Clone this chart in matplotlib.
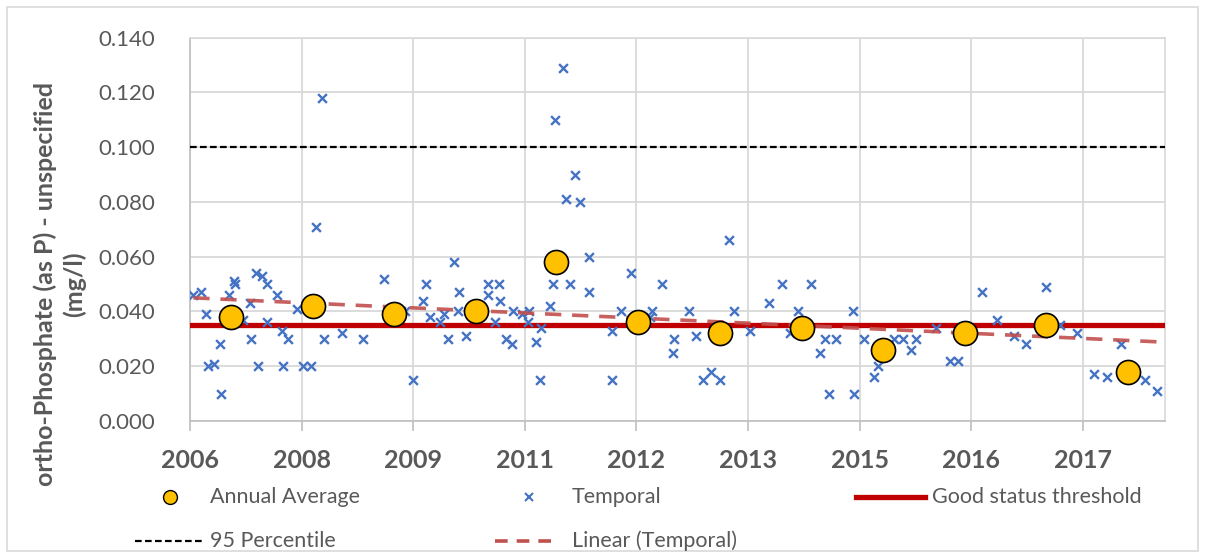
import numpy as np
import matplotlib
matplotlib.use("Agg")
import matplotlib.pyplot as plt
from matplotlib.lines import Line2D
from matplotlib.patches import Rectangle

plt.rcParams["font.family"] = ["Lato", "DejaVu Sans"]

# sample dates (decimal years) and ortho-phosphate values (mg/l)
temporal_t = [
    2006.04, 2006.13, 2006.19, 2006.22, 2006.29, 2006.36, 2006.38, 2006.47, 2006.54, 2006.55,
    2006.64, 2006.73, 2006.74, 2006.80, 2006.88, 2006.83, 2006.93, 2006.94, 2007.06, 2007.12,
    2007.19, 2007.13, 2007.30, 2007.37, 2007.47, 2007.53, 2007.60, 2007.63, 2007.85, 2008.10,
    2008.36, 2008.51, 2008.56, 2008.61, 2008.71, 2008.86, 2008.83, 2008.91, 2009.04, 2009.09,
    2009.13, 2009.20, 2009.27, 2009.26, 2009.35, 2009.43, 2009.62, 2009.62, 2009.75, 2009.70,
    2009.77, 2009.84, 2009.91, 2009.92, 2010.03, 2010.12, 2010.11, 2010.20, 2010.26, 2010.25,
    2010.37, 2010.41, 2010.43, 2010.53, 2010.56, 2010.62, 2010.68, 2010.74, 2010.85, 2010.85,
    2011.13, 2011.13, 2011.23, 2011.36, 2011.61, 2011.59, 2011.73, 2011.88, 2011.87, 2012.06,
    2012.15, 2012.23, 2012.33, 2012.43, 2012.54, 2012.60, 2012.80, 2013.03, 2013.19, 2013.29,
    2013.38, 2013.54, 2013.65, 2013.71, 2013.76, 2013.85, 2014.05, 2014.06, 2014.19, 2014.30,
    2014.36, 2014.55, 2014.66, 2014.75, 2014.82, 2015.06, 2015.23, 2015.33, 2015.62, 2015.80,
    2016.01, 2016.15, 2016.40, 2016.57, 2016.77, 2016.98, 2017.14, 2017.31, 2017.60, 2017.74,
]
temporal_v = [
    0.046, 0.047, 0.039, 0.020, 0.021, 0.028, 0.010, 0.046, 0.051, 0.050,
    0.037, 0.043, 0.030, 0.054, 0.053, 0.020, 0.050, 0.036, 0.046, 0.033,
    0.030, 0.020, 0.041, 0.020, 0.020, 0.071, 0.118, 0.030, 0.032, 0.030,
    0.052, 0.040, 0.040, 0.040, 0.015, 0.050, 0.044, 0.038, 0.036, 0.039,
    0.030, 0.058, 0.047, 0.040, 0.031, 0.040, 0.050, 0.046, 0.050, 0.036,
    0.044, 0.030, 0.028, 0.040, 0.039, 0.040, 0.036, 0.029, 0.034, 0.015,
    0.042, 0.050, 0.110, 0.129, 0.081, 0.050, 0.090, 0.080, 0.060, 0.047,
    0.015, 0.033, 0.040, 0.054, 0.040, 0.038, 0.050, 0.030, 0.025, 0.040,
    0.031, 0.015, 0.018, 0.015, 0.066, 0.040, 0.033, 0.043, 0.050, 0.032,
    0.040, 0.050, 0.025, 0.030, 0.010, 0.030, 0.040, 0.010, 0.030, 0.016,
    0.020, 0.030, 0.030, 0.026, 0.030, 0.034, 0.022, 0.022, 0.047, 0.037,
    0.031, 0.028, 0.049, 0.035, 0.032, 0.017, 0.016, 0.028, 0.015, 0.011,
]

annual_t = [2006.50, 2007.49, 2008.48, 2009.47, 2010.45, 2011.44,
            2012.44, 2013.43, 2014.42, 2015.41, 2016.40, 2017.39]
annual_v = [0.038, 0.042, 0.039, 0.040, 0.058, 0.036,
            0.032, 0.034, 0.026, 0.032, 0.035, 0.018]

good_status = 0.035
percentile_95 = 0.100

tick_t = [2006.0 + k * 1.3552 for k in range(9)]
tick_labels = ["2006", "2008", "2009", "2011", "2012", "2013", "2015", "2016", "2017"]

grey = "#595959"
blue = "#4472C4"
gold = "#FFC000"
red = "#C00000"
trend_col = "#C0504D"

fig = plt.figure(figsize=(12.05, 5.58), dpi=100)
fig.add_artist(Rectangle((0.006, 0.012), 0.988, 0.976, transform=fig.transFigure,
                         fill=False, edgecolor="#d9d9d9", linewidth=1.2))
ax = fig.add_axes([0.1577, 0.2455, 0.8091, 0.6869])

ax.set_xlim(2006.0, 2006.0 + (1165 - 190) / 82.35)
ax.set_ylim(0, 0.14)
ax.set_yticks(np.arange(0, 0.1401, 0.02))
ax.set_yticklabels([f"{v:.3f}" for v in np.arange(0, 0.1401, 0.02)])
ax.set_xticks(tick_t)
ax.set_xticklabels(tick_labels)
ax.grid(True, color="#d9d9d9", linewidth=1.3)
ax.set_axisbelow(True)
for s in ax.spines.values():
    s.set_color("#d9d9d9")
    s.set_linewidth(1.2)
ax.spines["bottom"].set_color("#bfbfbf")
ax.spines["left"].set_color("#bfbfbf")
ax.tick_params(axis="y", length=0, pad=25, labelsize=16, labelcolor=grey)
ax.tick_params(axis="x", length=7, width=1.2, color="#bfbfbf", pad=13,
               labelsize=18, labelcolor=grey)
for lbl in ax.get_xticklabels():
    lbl.set_fontweight("bold")

ax.axhline(good_status, color=red, linewidth=3.8, zorder=3)
ax.axhline(percentile_95, color="black", linewidth=1.6, linestyle=(0, (3, 1.5)), zorder=3)

ax.scatter(temporal_t, temporal_v, marker="x", s=40, color=blue, linewidths=1.7, zorder=4)

coef = np.polyfit(temporal_t, temporal_v, 1)
tt = np.array([min(temporal_t), max(temporal_t)])
ax.plot(tt, np.polyval(coef, tt), color=trend_col, linewidth=2.6,
        linestyle=(0, (4.5, 3)), alpha=0.9, zorder=5)

ax.scatter(annual_t, annual_v, s=300, color=gold, edgecolors="black",
           linewidths=1.2, zorder=6)

fig.text(0.0495, 0.491, "ortho-Phosphate (as P) - unspecified\n(mg/l)", rotation=90,
         ha="center", va="center", fontsize=18, fontweight="bold", color=grey,
         linespacing=1.3, multialignment="center")

# legend drawn in figure pixel coordinates
def fx(px):
    return px / 1205


def fy(py):
    return 1 - py / 558


row1, row2 = 497, 541
lfs = 15.5
fig.add_artist(Line2D([fx(170)], [fy(row1)], marker="o", markersize=10,
                      markerfacecolor=gold, markeredgecolor="black", linestyle="none"))
fig.text(fx(210), fy(row1), "Annual Average", fontsize=lfs, color=grey, va="center")
fig.add_artist(Line2D([fx(529)], [fy(row1)], marker="x", markersize=6,
                      markeredgecolor=blue, markeredgewidth=1.5, linestyle="none"))
fig.text(fx(572), fy(row1), "Temporal", fontsize=lfs, color=grey, va="center")
fig.add_artist(Line2D([fx(856), fx(925)], [fy(row1), fy(row1)], color=red, linewidth=3.8))
fig.text(fx(932), fy(row1), "Good status threshold", fontsize=lfs, color=grey, va="center")
fig.add_artist(Line2D([fx(135), fx(204)], [fy(row2), fy(row2)], color="black",
                      linewidth=1.6, linestyle=(0, (3, 1.5))))
fig.text(fx(210), fy(row2), "95 Percentile", fontsize=lfs, color=grey, va="center")
fig.add_artist(Line2D([fx(495), fx(553)], [fy(row2), fy(row2)], color=trend_col,
                      linewidth=2.6, linestyle=(0, (3.5, 2.5))))
fig.text(fx(572), fy(row2), "Linear (Temporal)", fontsize=lfs, color=grey, va="center")

fig.savefig("out.png", dpi=100)
